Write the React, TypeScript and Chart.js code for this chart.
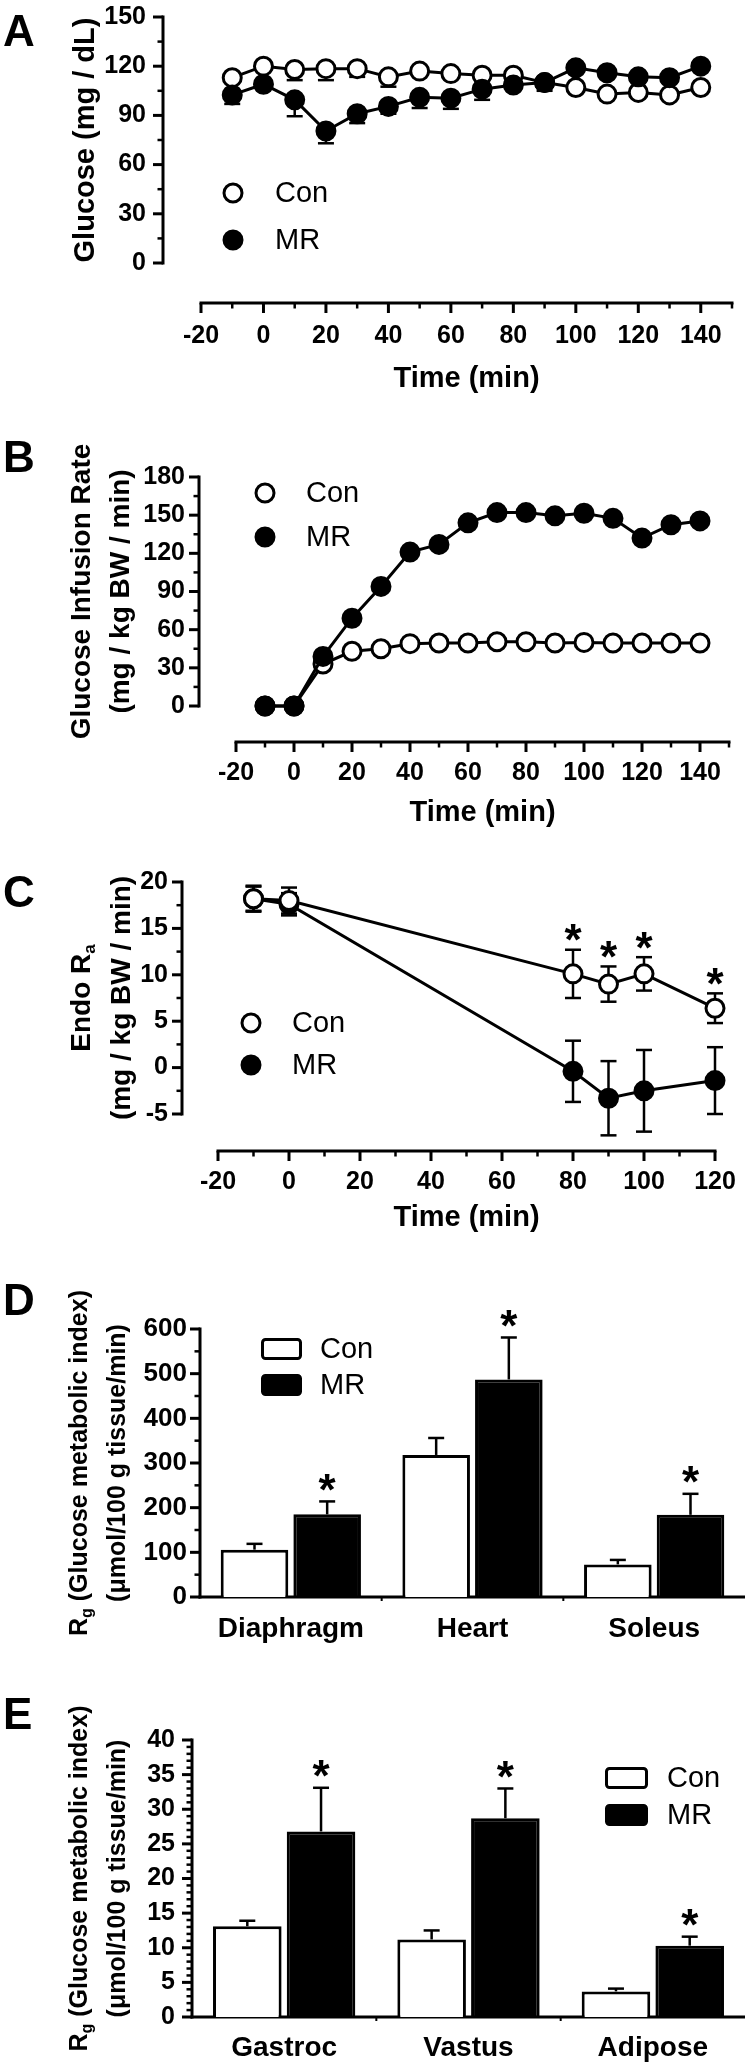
import React, { useEffect, useRef } from 'react';
import { Chart, registerables } from 'chart.js';

Chart.register(...registerables);

const FONT = "'Liberation Sans', Arial, Helvetica, sans-serif";
Chart.defaults.font.family = FONT;
Chart.defaults.color = '#000';

// ---------------- Data ----------------
// Panel A – plasma glucose
const timeAB = [-10, 0, 10, 20, 30, 40, 50, 60, 70, 80, 90, 100, 110, 120, 130, 140];
const glucoseCon = [113, 120, 118, 118.5, 118.5, 113.5, 117, 115.5, 114.5, 114.5, 110, 107, 103, 104, 102.5, 107];
const glucoseConSem = [2, 1.5, 6.5, 7, 5, 6, 2, 2.5, 2, 2, 2, 1.5, 2.5, 2, 2, 1.5];
const glucoseMR = [102.5, 109, 99.5, 80.5, 91, 95.5, 101, 100.5, 106, 108.5, 110, 119, 116, 113.5, 113, 120];
const glucoseMRSem = [5.5, 2, 10, 7.5, 5.7, 4.5, 6.5, 6.5, 6.5, 3, 5, 2.5, 2.5, 3, 3, 2];
const glucoseTicks = [0, 30, 60, 90, 120, 150];
const glucoseMinor = [15, 45, 75, 105, 135];

// Panel B – glucose infusion rate
const girCon = [0, 0, 33, 43, 45, 49, 49.5, 49.5, 50.5, 50.5, 49.5, 50, 49.5, 49.5, 49.5, 49.5];
const girMR = [0, 0, 39, 69, 94, 121, 127, 144, 152, 152, 149.5, 151.5, 147.5, 132, 142.5, 145.5];
const girZero = [0, 0, 0, 0, 0, 0, 0, 0, 0, 0, 0, 0, 0, 0, 0, 0];
const girTicks = [0, 30, 60, 90, 120, 150, 180];
const girMinor = [15, 45, 75, 105, 135, 165];

const timeTicksAB = [-20, 0, 20, 40, 60, 80, 100, 120, 140];
const timeMinorAB = [-10, 10, 30, 50, 70, 90, 110, 130, 150];

// Panel C – endogenous Ra
const timeC = [-10, 0, 80, 90, 100, 120];
const raCon = [18.2, 18.0, 10.1, 9.0, 10.1, 6.4];
const raConSem = [1.3, 1.4, 2.6, 1.9, 1.8, 1.6];
const raMR = [18.2, 17.6, -0.4, -3.3, -2.5, -1.4];
const raMRSem = [1.4, 1.2, 3.3, 4.0, 4.4, 3.6];
const raSig = [false, false, true, true, true, true];
const raTicks = [-5, 0, 5, 10, 15, 20];
const raMinor = [-2.5, 2.5, 7.5, 12.5, 17.5];
const timeTicksC = [-20, 0, 20, 40, 60, 80, 100, 120];
const timeMinorC = [-10, 10, 30, 50, 70, 90, 110];

// Panel D – Rg (heart / diaphragm / soleus)
const tissuesD = ['Diaphragm', 'Heart', 'Soleus'];
const rgDCon = [106, 318, 73];
const rgDConSem = [13, 38, 10];
const rgDMR = [185, 487, 184];
const rgDMRSem = [29, 94, 47];
const rgDSig = [true, true, true];
const rgDTicks = [0, 100, 200, 300, 400, 500, 600];
const rgDMinor = [50, 150, 250, 350, 450, 550];

// Panel E – Rg (gastroc / vastus / adipose)
const tissuesE = ['Gastroc', 'Vastus', 'Adipose'];
const rgECon = [13.1, 11.2, 3.7];
const rgEConSem = [0.8, 1.3, 0.4];
const rgEMR = [26.8, 28.7, 10.3];
const rgEMRSem = [6.3, 4.3, 1.3];
const rgESig = [true, true, true];
const rgETicks = [0, 5, 10, 15, 20, 25, 30, 35, 40];
const rgEMinor = [1, 2, 3, 4, 6, 7, 8, 9, 11, 12, 13, 14, 16, 17, 18, 19, 21, 22, 23, 24, 26, 27, 28, 29, 31, 32, 33, 34, 36, 37, 38, 39];

const noSig = [false, false, false];

// ---------------- Types ----------------
type Seg = { t: string; sub?: boolean };
type TitleLine = { x: number; segs: Seg[] };
type Series = {
  label: string;
  values: number[];
  sem: number[];
  filled: boolean;
  errDir: 'down' | 'both' | 'up' | 'none';
  sig: boolean[];
};
type LegendPos = { x: number; y: number; textX: number };
type Spec = {
  letter: string;
  top: number;
  h: number;
  kind: 'line' | 'bar';
  x?: number[];
  categories?: string[];
  series: Series[];
  xMin?: number;
  xMax?: number;
  xMajor?: number[];
  xMinor?: number[];
  yMin: number;
  yMax: number;
  yMajor: number[];
  yMinor: number[];
  padTop: number;
  padRight: number;
  yWidth: number;
  xHeight: number;
  xLabelPad: number;
  yLabelPad: number;
  tickSize: number;
  catSize?: number;
  yAxisX: number;
  xAxisY?: number;
  titleSize: number;
  titleLines: TitleLine[];
  legend: LegendPos[];
  legendW?: number;
  letterBaseline: number;
  topSeries: number;
  starGap: number;
};

// ---------------- Panels ----------------
const panels: Spec[] = [
  {
    letter: 'A', top: 0, h: 396, kind: 'line', x: timeAB,
    series: [
      { label: 'Con', values: glucoseCon, sem: glucoseConSem, filled: false, errDir: 'down', sig: timeAB.map(() => false) },
      { label: 'MR', values: glucoseMR, sem: glucoseMRSem, filled: true, errDir: 'down', sig: timeAB.map(() => false) },
    ],
    xMin: -20, xMax: 150, xMajor: timeTicksAB, xMinor: timeMinorAB,
    yMin: 0, yMax: 150, yMajor: glucoseTicks, yMinor: glucoseMinor,
    padTop: 17, padRight: 15, yWidth: 201, xHeight: 133, xLabelPad: 58, yLabelPad: 55, tickSize: 25,
    yAxisX: 163, xAxisY: 303,
    titleSize: 29, titleLines: [{ x: 86, segs: [{ t: 'Glucose (mg / dL)' }] }],
    legend: [{ x: 233, y: 193, textX: 275 }, { x: 233, y: 240, textX: 275 }],
    letterBaseline: 46, topSeries: 1, starGap: 20,
  },
  {
    letter: 'B', top: 400, h: 430, kind: 'line', x: timeAB,
    series: [
      { label: 'Con', values: girCon, sem: girZero, filled: false, errDir: 'none', sig: timeAB.map(() => false) },
      { label: 'MR', values: girMR, sem: girZero, filled: true, errDir: 'none', sig: timeAB.map(() => false) },
    ],
    xMin: -20, xMax: 150, xMajor: timeTicksAB, xMinor: timeMinorAB,
    yMin: 0, yMax: 180, yMajor: girTicks, yMinor: girMinor,
    padTop: 77, padRight: 18, yWidth: 236, xHeight: 124, xLabelPad: 52, yLabelPad: 51, tickSize: 25,
    yAxisX: 199, xAxisY: 342,
    titleSize: 28,
    titleLines: [
      { x: 82, segs: [{ t: 'Glucose Infusion Rate' }] },
      { x: 121, segs: [{ t: '(mg / kg BW / min)' }] },
    ],
    legend: [{ x: 265, y: 93, textX: 306 }, { x: 265, y: 137, textX: 306 }],
    letterBaseline: 72, topSeries: 1, starGap: 20,
  },
  {
    letter: 'C', top: 840, h: 395, kind: 'line', x: timeC,
    series: [
      { label: 'Con', values: raCon, sem: raConSem, filled: false, errDir: 'both', sig: raSig },
      { label: 'MR', values: raMR, sem: raMRSem, filled: true, errDir: 'both', sig: timeC.map(() => false) },
    ],
    xMin: -20, xMax: 120, xMajor: timeTicksC, xMinor: timeMinorC,
    yMin: -5, yMax: 20, yMajor: raTicks, yMinor: raMinor,
    padTop: 42, padRight: 32, yWidth: 218, xHeight: 121, xLabelPad: 53, yLabelPad: 50, tickSize: 25,
    yAxisX: 182, xAxisY: 311,
    titleSize: 28,
    titleLines: [
      { x: 82, segs: [{ t: 'Endo R' }, { t: 'a', sub: true }] },
      { x: 122, segs: [{ t: '(mg / kg BW / min)' }] },
    ],
    legend: [{ x: 251, y: 183, textX: 292 }, { x: 251, y: 225, textX: 292 }],
    letterBaseline: 67, topSeries: 0, starGap: 20,
  },
  {
    letter: 'D', top: 1240, h: 420, kind: 'bar', categories: tissuesD,
    series: [
      { label: 'Con', values: rgDCon, sem: rgDConSem, filled: false, errDir: 'up', sig: noSig },
      { label: 'MR', values: rgDMR, sem: rgDMRSem, filled: true, errDir: 'up', sig: rgDSig },
    ],
    yMin: 0, yMax: 600, yMajor: rgDTicks, yMinor: rgDMinor,
    padTop: 89, padRight: 2, yWidth: 200, xHeight: 63, xLabelPad: 15, yLabelPad: 13, tickSize: 26, catSize: 28,
    yAxisX: 200,
    titleSize: 25,
    titleLines: [
      { x: 80, segs: [{ t: 'R' }, { t: 'g', sub: true }, { t: ' (Glucose metabolic index)' }] },
      { x: 118, segs: [{ t: '(\u03bcmol/100 g tissue/min)' }] },
    ],
    legend: [{ x: 261, y: 109, textX: 320 }, { x: 261, y: 145, textX: 320 }], legendW: 41,
    letterBaseline: 75, topSeries: 0, starGap: 22,
  },
  {
    letter: 'E', top: 1670, h: 396, kind: 'bar', categories: tissuesE,
    series: [
      { label: 'Con', values: rgECon, sem: rgEConSem, filled: false, errDir: 'up', sig: noSig },
      { label: 'MR', values: rgEMR, sem: rgEMRSem, filled: true, errDir: 'up', sig: rgESig },
    ],
    yMin: 0, yMax: 40, yMajor: rgETicks, yMinor: rgEMinor,
    padTop: 70, padRight: 2, yWidth: 192, xHeight: 49, xLabelPad: 14, yLabelPad: 17, tickSize: 25, catSize: 28,
    yAxisX: 192,
    titleSize: 25,
    titleLines: [
      { x: 80, segs: [{ t: 'R' }, { t: 'g', sub: true }, { t: ' (Glucose metabolic index)' }] },
      { x: 118, segs: [{ t: '(\u03bcmol/100 g tissue/min)' }] },
    ],
    legend: [{ x: 605, y: 108, textX: 667 }, { x: 605, y: 145, textX: 667 }], legendW: 43,
    letterBaseline: 59, topSeries: 0, starGap: 22,
  },
];

// ---------------- Drawing helpers ----------------
function seg(ctx: CanvasRenderingContext2D, x1: number, y1: number, x2: number, y2: number, w: number) {
  ctx.lineWidth = w;
  ctx.beginPath();
  ctx.moveTo(x1, y1);
  ctx.lineTo(x2, y2);
  ctx.stroke();
}

function drawAxes(chart: any, s: Spec) {
  const ctx: CanvasRenderingContext2D = chart.ctx;
  const xs = chart.scales.x;
  const ys = chart.scales.y;
  const ca = chart.chartArea;
  ctx.save();
  ctx.strokeStyle = '#000';
  ctx.lineCap = 'butt';
  const ax = s.yAxisX;
  const yTop = ys.getPixelForValue(s.yMax);
  const yBot = ys.getPixelForValue(s.yMin);
  seg(ctx, ax, yTop - 1.5, ax, yBot + 1.5, 3);
  s.yMajor.forEach((v) => {
    const p = ys.getPixelForValue(v);
    seg(ctx, ax - 10, p, ax, p, 3);
  });
  s.yMinor.forEach((v) => {
    const p = ys.getPixelForValue(v);
    seg(ctx, ax - 5.5, p, ax, p, 2.5);
  });
  if (s.kind === 'line') {
    const ay = s.xAxisY as number;
    const xl = xs.getPixelForValue(s.xMin);
    const xr = xs.getPixelForValue(s.xMax);
    seg(ctx, xl - 1.5, ay, xr + 1.5, ay, 3);
    (s.xMajor || []).forEach((v) => {
      const p = xs.getPixelForValue(v);
      seg(ctx, p, ay, p, ay + 10, 3);
    });
    (s.xMinor || []).forEach((v) => {
      const p = xs.getPixelForValue(v);
      seg(ctx, p, ay, p, ay + 5.5, 2.5);
    });
  } else {
    const ay = ca.bottom;
    seg(ctx, ax - 1.5, ay, ca.right, ay, 3);
    const n = (s.categories || []).length;
    for (let i = 0; i < n - 1; i++) {
      const p = xs.getPixelForValue(i + 0.5);
      seg(ctx, p, ay, p, ay + 4, 2);
    }
  }
  ctx.restore();
}

function drawErrorBar(ctx: CanvasRenderingContext2D, x: number, y0: number, y1: number) {
  seg(ctx, x, y0, x, y1, 2.5);
  seg(ctx, x - 8, y1, x + 8, y1, 2.5);
}

function drawLineErrors(chart: any, s: Spec) {
  const ctx: CanvasRenderingContext2D = chart.ctx;
  const xs = chart.scales.x;
  const ys = chart.scales.y;
  ctx.save();
  ctx.strokeStyle = '#000';
  s.series.forEach((ser) => {
    if (ser.errDir === 'none') return;
    ser.values.forEach((v, i) => {
      const x = xs.getPixelForValue((s.x as number[])[i]);
      const y = ys.getPixelForValue(v);
      const hi = ys.getPixelForValue(v + ser.sem[i]);
      const lo = ys.getPixelForValue(v - ser.sem[i]);
      if (ser.errDir === 'up' || ser.errDir === 'both') drawErrorBar(ctx, x, y, hi);
      if (ser.errDir === 'down' || ser.errDir === 'both') drawErrorBar(ctx, x, y, lo);
    });
  });
  ctx.restore();
}

function drawBarErrors(chart: any, s: Spec) {
  const ctx: CanvasRenderingContext2D = chart.ctx;
  const ys = chart.scales.y;
  ctx.save();
  ctx.strokeStyle = '#000';
  s.series.forEach((ser, di) => {
    const meta = chart.getDatasetMeta(di);
    ser.values.forEach((v, i) => {
      const el = meta.data[i];
      const hi = ys.getPixelForValue(v + ser.sem[i]);
      drawErrorBar(ctx, el.x, el.y, hi);
    });
  });
  ctx.restore();
}

function drawStar(ctx: CanvasRenderingContext2D, x: number, yc: number) {
  const size = 44;
  ctx.font = `bold ${size}px ${FONT}`;
  ctx.textAlign = 'center';
  ctx.textBaseline = 'alphabetic';
  ctx.fillStyle = '#000';
  ctx.fillText('*', x, yc + 0.58 * size);
}

function drawStars(chart: any, s: Spec) {
  const ctx: CanvasRenderingContext2D = chart.ctx;
  const xs = chart.scales.x;
  const ys = chart.scales.y;
  ctx.save();
  s.series.forEach((ser, di) => {
    const meta = chart.getDatasetMeta(di);
    ser.values.forEach((v, i) => {
      if (!ser.sig[i]) return;
      const x = s.kind === 'line' ? xs.getPixelForValue((s.x as number[])[i]) : meta.data[i].x;
      const top = ys.getPixelForValue(v + ser.sem[i]);
      drawStar(ctx, x, top - s.starGap);
    });
  });
  ctx.restore();
}

function drawLegend(chart: any, s: Spec) {
  const ctx: CanvasRenderingContext2D = chart.ctx;
  ctx.save();
  ctx.strokeStyle = '#000';
  ctx.lineWidth = 3;
  s.series.forEach((ser, i) => {
    const L = s.legend[i];
    if (s.kind === 'line') {
      ctx.beginPath();
      ctx.arc(L.x, L.y, 9, 0, Math.PI * 2);
      ctx.fillStyle = ser.filled ? '#000' : '#fff';
      ctx.fill();
      ctx.stroke();
    } else {
      const w = s.legendW || 40;
      const h = 22;
      ctx.beginPath();
      (ctx as any).roundRect(L.x + 1.5, L.y - h / 2 + 1.5, w - 3, h - 3, 3);
      ctx.fillStyle = ser.filled ? '#000' : '#fff';
      ctx.fill();
      ctx.stroke();
    }
    ctx.fillStyle = '#000';
    ctx.font = `29px ${FONT}`;
    ctx.textAlign = 'left';
    ctx.textBaseline = 'middle';
    ctx.fillText(ser.label, L.textX, L.y + 1);
  });
  ctx.restore();
}

function drawYTitle(chart: any, s: Spec) {
  const ctx: CanvasRenderingContext2D = chart.ctx;
  const ca = chart.chartArea;
  const cy = (ca.top + ca.bottom) / 2;
  const size = s.titleSize;
  const subSize = Math.round(size * 0.62);
  ctx.save();
  ctx.fillStyle = '#000';
  ctx.textBaseline = 'middle';
  ctx.textAlign = 'left';
  s.titleLines.forEach((line) => {
    let total = 0;
    const widths = line.segs.map((sg) => {
      ctx.font = `bold ${sg.sub ? subSize : size}px ${FONT}`;
      const w = ctx.measureText(sg.t).width;
      total += w;
      return w;
    });
    ctx.save();
    ctx.translate(line.x, cy);
    ctx.rotate(-Math.PI / 2);
    let x0 = -total / 2;
    line.segs.forEach((sg, k) => {
      ctx.font = `bold ${sg.sub ? subSize : size}px ${FONT}`;
      ctx.fillText(sg.t, x0, sg.sub ? size * 0.3 : 0);
      x0 += widths[k];
    });
    ctx.restore();
  });
  ctx.restore();
}

function drawLetter(chart: any, s: Spec) {
  const ctx: CanvasRenderingContext2D = chart.ctx;
  ctx.save();
  ctx.fillStyle = '#000';
  ctx.font = `bold 44px ${FONT}`;
  ctx.textAlign = 'left';
  ctx.textBaseline = 'alphabetic';
  ctx.fillText(s.letter, 3, s.letterBaseline);
  ctx.restore();
}

function makePlugin(s: Spec) {
  return {
    id: 'prism' + s.letter,
    beforeDatasetsDraw(chart: any) {
      drawAxes(chart, s);
      if (s.kind === 'line') drawLineErrors(chart, s);
    },
    afterDatasetsDraw(chart: any) {
      if (s.kind === 'bar') drawBarErrors(chart, s);
      drawStars(chart, s);
      drawLegend(chart, s);
      drawYTitle(chart, s);
      drawLetter(chart, s);
    },
  };
}

function buildConfig(s: Spec): any {
  const tickFont = { size: s.tickSize, weight: 'bold', family: FONT };
  const yScale = {
    type: 'linear',
    position: 'left',
    min: s.yMin,
    max: s.yMax,
    grid: { display: false, drawTicks: false },
    border: { display: false },
    ticks: { font: tickFont, color: '#000', padding: s.yLabelPad },
    afterBuildTicks: (sc: any) => {
      sc.ticks = s.yMajor.map((v) => ({ value: v }));
    },
    afterFit: (sc: any) => {
      sc.width = s.yWidth;
      sc.paddingTop = 0;
      sc.paddingBottom = 0;
    },
  };
  const options: any = {
    animation: false,
    responsive: false,
    events: [],
    layout: { autoPadding: false, padding: { left: 0, right: s.padRight, top: s.padTop, bottom: 0 } },
    plugins: { legend: { display: false }, tooltip: { enabled: false }, title: { display: false } },
    scales: { y: yScale },
  };
  if (s.kind === 'line') {
    options.scales.x = {
      type: 'linear',
      position: 'bottom',
      min: s.xMin,
      max: s.xMax,
      grid: { display: false, drawTicks: false },
      border: { display: false },
      ticks: { font: tickFont, color: '#000', padding: s.xLabelPad, maxRotation: 0, autoSkip: false },
      afterBuildTicks: (sc: any) => {
        sc.ticks = (s.xMajor || []).map((v) => ({ value: v }));
      },
      afterFit: (sc: any) => {
        sc.height = s.xHeight;
        sc.paddingLeft = 0;
        sc.paddingRight = 0;
      },
      title: {
        display: true,
        text: 'Time (min)',
        font: { size: 29, weight: 'bold', family: FONT },
        color: '#000',
        padding: { top: 0, bottom: 0 },
      },
    };
    return {
      type: 'line',
      data: {
        datasets: s.series.map((ser, i) => ({
          label: ser.label,
          data: ser.values.map((v, j) => ({ x: (s.x as number[])[j], y: v })),
          borderColor: '#000',
          borderWidth: 3,
          pointRadius: 9,
          pointHoverRadius: 9,
          pointBorderWidth: 3,
          pointBorderColor: '#000',
          pointBackgroundColor: ser.filled ? '#000' : '#fff',
          tension: 0,
          fill: false,
          clip: false,
          order: i === s.topSeries ? 0 : 1,
        })),
      },
      options,
      plugins: [makePlugin(s)],
    };
  }
  options.scales.x = {
    type: 'category',
    position: 'bottom',
    grid: { display: false, drawTicks: false },
    border: { display: false },
    ticks: { font: { size: s.catSize || 28, weight: 'bold', family: FONT }, color: '#000', padding: s.xLabelPad, maxRotation: 0, autoSkip: false },
    afterFit: (sc: any) => {
      sc.height = s.xHeight;
      sc.paddingLeft = 0;
      sc.paddingRight = 0;
    },
  };
  return {
    type: 'bar',
    data: {
      labels: s.categories,
      datasets: s.series.map((ser) => ({
        label: ser.label,
        data: ser.values,
        backgroundColor: ser.filled ? '#000' : '#fff',
        borderColor: '#000',
        borderWidth: 3,
        categoryPercentage: 0.8,
        barPercentage: 0.93,
      })),
    },
    options,
    plugins: [makePlugin(s)],
  };
}

function Panel({ spec }: { spec: Spec }) {
  const ref = useRef<HTMLCanvasElement | null>(null);
  useEffect(() => {
    if (!ref.current) return;
    const chart = new Chart(ref.current, buildConfig(spec));
    return () => chart.destroy();
  }, [spec]);
  return (
    <canvas
      ref={ref}
      width={747}
      height={spec.h}
      style={{ position: 'absolute', left: 0, top: spec.top, width: 747, height: spec.h, display: 'block' }}
    />
  );
}

export default function App() {
  return (
    <div style={{ position: 'absolute', left: 0, top: 0, width: 747, height: 2066, background: '#fff', overflow: 'hidden' }}>
      {panels.map((p) => (
        <Panel key={p.letter} spec={p} />
      ))}
    </div>
  );
}
